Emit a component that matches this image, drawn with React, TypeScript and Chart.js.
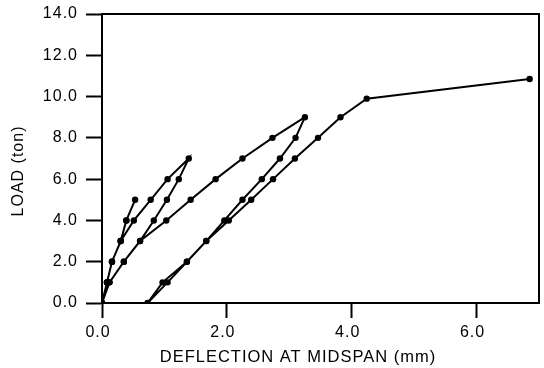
import React, { useEffect, useRef } from "react";
import { Chart, registerables } from "chart.js";

Chart.register(...registerables);

// Load–deflection history (deflection in mm, load in ton)
const cycle1Deflection = [0, 0.08, 0.16, 0.3, 0.39, 0.53, 0.39, 0.3, 0.16, 0.08, 0];
const cycle1Load = [0, 1, 2, 3, 4, 5, 4, 3, 2, 1, 0];

const cycle2Deflection = [0.08, 0.16, 0.3, 0.51, 0.78, 1.05, 1.39, 1.23, 1.04, 0.83, 0.61, 0.35, 0.12, 0];
const cycle2Load = [1, 2, 3, 4, 5, 6, 7, 6, 5, 4, 3, 2, 1, 0];

const cycle3Deflection = [0.12, 0.35, 0.61, 1.03, 1.42, 1.82, 2.25, 2.73, 3.25, 3.1, 2.85, 2.56, 2.25, 1.96, 1.67, 1.36, 0.97, 0.73];
const cycle3Load = [1, 2, 3, 4, 5, 6, 7, 8, 9, 8, 7, 6, 5, 4, 3, 2, 1, 0];

const finalDeflection = [1.05, 1.36, 1.67, 2.03, 2.39, 2.74, 3.09, 3.46, 3.82, 4.24, 6.85];
const finalLoad = [1, 2, 3, 4, 5, 6, 7, 8, 9, 9.9, 10.85];

const xTickValues = [0, 2, 4, 6];
const yTickValues = [0, 2, 4, 6, 8, 10, 12, 14];

const xTitle = "DEFLECTION AT MIDSPAN (mm)";
const yTitle = "LOAD (ton)";

const allDeflection = [...cycle1Deflection, ...cycle2Deflection, ...cycle3Deflection, ...finalDeflection];
const allLoad = [...cycle1Load, ...cycle2Load, ...cycle3Load, ...finalLoad];

const FONT = '"Liberation Sans", Arial, Helvetica, sans-serif';

export default function App() {
  const ref = useRef<HTMLCanvasElement | null>(null);

  useEffect(() => {
    if (!ref.current) return;
    const spacing = {
      id: "spacing",
      beforeDraw(chart: any) {
        chart.ctx.letterSpacing = "1px";
      },
    };
    const frameAndTitles = {
      id: "frameAndTitles",
      afterDraw(chart: any) {
        const { ctx, chartArea } = chart;
        ctx.save();
        ctx.strokeStyle = "#000";
        ctx.lineWidth = 2;
        ctx.beginPath();
        ctx.moveTo(chartArea.left, chartArea.top);
        ctx.lineTo(chartArea.right, chartArea.top);
        ctx.lineTo(chartArea.right, chartArea.bottom);
        ctx.stroke();
        ctx.restore();

        ctx.save();
        ctx.letterSpacing = "1px";
        ctx.fillStyle = "#000";
        ctx.font = `16.5px ${FONT}`;
        ctx.textAlign = "center";
        ctx.textBaseline = "middle";
        ctx.fillText(xTitle, 298, 357);
        ctx.restore();

        ctx.save();
        ctx.letterSpacing = "1px";
        ctx.fillStyle = "#000";
        ctx.font = `16px ${FONT}`;
        ctx.textAlign = "center";
        ctx.textBaseline = "middle";
        ctx.translate(19, 171);
        ctx.rotate(-Math.PI / 2);
        ctx.fillText(yTitle, 0, 0);
        ctx.restore();
      },
    };

    const chart = new Chart(ref.current, {
      type: "scatter",
      data: {
        datasets: [
          {
            data: allDeflection.map((x, i) => ({ x, y: allLoad[i] })),
            showLine: true,
            borderColor: "#000",
            backgroundColor: "#000",
            borderWidth: 2,
            pointRadius: 3.2,
            pointHoverRadius: 3.2,
            pointBorderWidth: 0,
            pointBackgroundColor: "#000",
          },
        ],
      },
      options: {
        responsive: false,
        animation: false,
        layout: { padding: { left: 0, top: 14, right: 5, bottom: 0 } },
        plugins: { legend: { display: false }, tooltip: { enabled: false }, title: { display: false } },
        scales: {
          x: {
            type: "linear",
            position: "bottom",
            min: 0,
            max: 7,
            afterFit: (s: any) => {
              s.height = 65;
              s.paddingLeft = 0;
              s.paddingRight = 0;
            },
            afterBuildTicks: (s: any) => {
              s.ticks = xTickValues.map((v) => ({ value: v }));
            },
            ticks: {
              color: "#000",
              font: { family: FONT, size: 16 },
              padding: 5,
              labelOffset: -4,
              maxRotation: 0,
              callback: (v: any) => Number(v).toFixed(1),
            },
            grid: {
              drawOnChartArea: false,
              drawTicks: true,
              tickLength: 15,
              tickColor: "#000",
              tickWidth: 2,
              color: "#000",
            },
            border: { display: true, color: "#000", width: 2 },
          },
          y: {
            type: "linear",
            position: "left",
            min: 0,
            max: 14,
            afterFit: (s: any) => {
              s.width = 102;
              s.paddingTop = 0;
              s.paddingBottom = 0;
            },
            afterBuildTicks: (s: any) => {
              s.ticks = yTickValues.map((v) => ({ value: v }));
            },
            ticks: {
              color: "#000",
              font: { family: FONT, size: 16 },
              padding: 8,
              callback: (v: any) => Number(v).toFixed(1),
            },
            grid: {
              drawOnChartArea: false,
              drawTicks: true,
              tickLength: 16,
              tickColor: "#000",
              tickWidth: 2,
              color: "#000",
            },
            border: { display: true, color: "#000", width: 2 },
          },
        },
      },
      plugins: [spacing, frameAndTitles],
    } as any);
    return () => chart.destroy();
  }, []);

  return (
    <div style={{ position: "fixed", left: 0, top: 0, width: 544, height: 368, background: "#fff" }}>
      <canvas ref={ref} width={544} height={368} style={{ display: "block" }} />
    </div>
  );
}
